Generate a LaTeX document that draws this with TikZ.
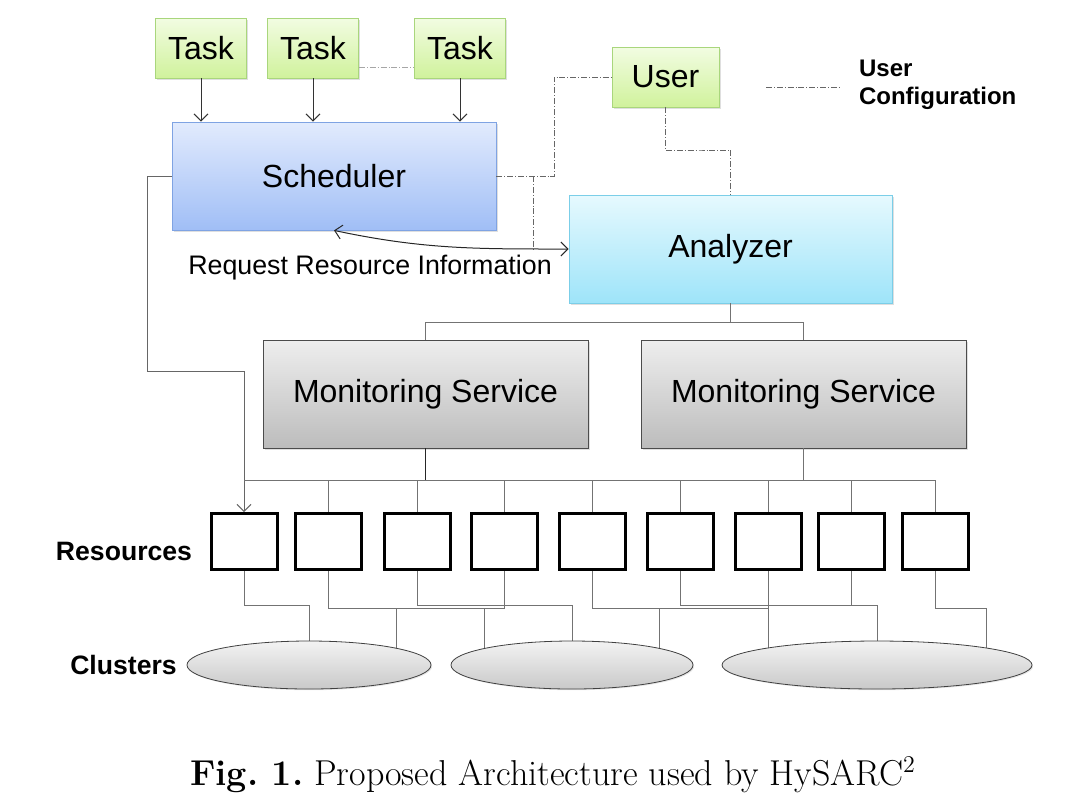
\documentclass[tikz,border=0pt]{standalone}
\usepackage{fontspec}
\newfontfamily\arialfont{Liberation Sans}
\usepackage{xcolor}
\usetikzlibrary{positioning, shapes, shadows, backgrounds, arrows.meta}

\definecolor{tasktop}{HTML}{F2FCE2}
\definecolor{taskbot}{HTML}{D0F29C}
\definecolor{taskline}{HTML}{A9D67C}
\definecolor{schedtop}{HTML}{E2EBFD}
\definecolor{schedbot}{HTML}{A0BEF6}
\definecolor{schedline}{HTML}{7FA3E3}
\definecolor{antop}{HTML}{E6F9FE}
\definecolor{anbot}{HTML}{9EE4F9}
\definecolor{anline}{HTML}{7BCEE8}
\definecolor{montop}{HTML}{EEEEEE}
\definecolor{monbot}{HTML}{BCBCBC}
\definecolor{clutop}{HTML}{F3F3F3}
\definecolor{clubot}{HTML}{C9C9C9}

\tikzset{
    box/.style={draw, inner sep=0pt, font=\arialfont\fontsize{16}{19}\selectfont,
        drop shadow={opacity=0.25, shadow xshift=0.8pt, shadow yshift=-0.8pt}},
    taskbox/.style={box, draw=taskline, top color=tasktop, bottom color=taskbot,
        minimum width=45.5pt, minimum height=30pt},
    schedbox/.style={box, draw=schedline, top color=schedtop, bottom color=schedbot,
        minimum width=162pt, minimum height=54pt},
    anbox/.style={box, draw=anline, top color=antop, bottom color=anbot,
        minimum width=161.5pt, minimum height=54pt},
    monbox/.style={box, draw=black!70, top color=montop, bottom color=monbot,
        minimum width=162.5pt, minimum height=54pt},
    resbox/.style={draw, line width=1.5pt, fill=white, inner sep=0pt,
        minimum width=33pt, minimum height=28pt},
    cluster/.style={ellipse, draw=black!75, top color=clutop, bottom color=clubot,
        inner sep=0pt, minimum height=24pt,
        drop shadow={opacity=0.2, shadow xshift=0.6pt, shadow yshift=-0.6pt}},
    wire/.style={draw=black!55, line width=0.5pt},
    cfg/.style={draw=black!60, densely dashdotted, line width=0.4pt},
    sidelabel/.style={font=\arialfont\bfseries\fontsize{13.3}{16}\selectfont},
}

\begin{document}
\begin{tikzpicture}[x=0.5pt, y=-0.5pt, >={Straight Barb[length=3.5pt,width=7pt]}]

    \useasboundingbox (0,0) rectangle (1079,804);

    % Tasks and user
    \node[taskbox] (t1) at (201,48) {Task};
    \node[taskbox] (t2) at (313,48) {Task};
    \node[taskbox] (t3) at (460,48) {Task};
    \node[taskbox, minimum width=53.5pt] (user) at (665.5,77) {User};

    % Main boxes
    \node[schedbox] (sched) at (334,176) {Scheduler};
    \node[anbox] (an) at (730.5,249) {Analyzer};
    \node[monbox] (ms1) at (425.5,394) {Monitoring Service};
    \node[monbox] (ms2) at (803.5,394) {Monitoring Service};

    % Resources
    \foreach \x [count=\i] in {244,328,417,504,592,680,768,851,935}
        \node[resbox] (r\i) at (\x,541.5) {};

    % Clusters
    \node[cluster, minimum width=122pt] (c1) at (309,665) {};
    \node[cluster, minimum width=121pt] (c2) at (572,665) {};
    \node[cluster, minimum width=155pt] (c3) at (877,665) {};

    % Side labels
    \node[sidelabel] (reslabel) at (124,551) {Resources};
    \node[sidelabel] (clulabel) at (123.5,665) {Clusters};

    % Helper points
    \coordinate (tdots) at (0,67);
    \coordinate (ujoin) at (554,77);
    \coordinate (ajoin) at (700,150);
    \coordinate (rjoin) at (533,176);
    \coordinate (sl) at (147,371);
    \coordinate (abus) at (0,322);
    \coordinate (rbus) at (0,480);
    \coordinate (lowA) at (0,605);
    \coordinate (lowB) at (0,608);

    % Tasks to scheduler
    \foreach \t in {t1,t2,t3}
        \draw[->, black!80, line width=0.5pt] (\t.south) -- (\t.south |- sched.north);
    \draw[cfg, black!35] (t2.east |- tdots) -- (t3.west |- tdots);

    % User configuration
    \draw[cfg] (sched.east) -| (ujoin) -- (user.west);
    \draw[cfg] (user.south) |- (ajoin) -| (an.north);
    \draw[cfg] (rjoin) -- (rjoin |- an.west);

    % Request resource information
    \draw[<->, black!85, line width=0.5pt] (sched.south) to[out=-12, in=180] (an.west);
    \node[font=\arialfont\fontsize{13.4}{16}\selectfont] (req) at (370,268) {Request Resource Information};

    % Scheduler to first resource
    \draw[wire, ->, black!60] (sched.west) -| (sl) -| (r1.north);

    % Analyzer to monitoring services
    \draw[wire] (an.south) -- (an.south |- abus);
    \draw[wire] (ms1.north) |- (ms2.north |- abus) -- (ms2.north);

    % Monitoring services to resources
    \draw[black!85, line width=0.7pt] (ms1.south) -- (ms1.south |- rbus);
    \draw[wire] (ms2.south) -- (ms2.south |- rbus);
    \draw[wire] (r1.north |- rbus) -- (r9.north |- rbus);
    \foreach \i in {2,...,9}
        \draw[wire] (r\i.north |- rbus) -- (r\i.north);

    % Resources to clusters
    \begin{pgfonlayer}{background}
        \draw[wire] (r1.south) |- (c1 |- lowA) -- (c1);
        \draw[wire] (r2.south) |- (r4.south |- lowB) -- (r4.south);
        \draw[wire] (c1.11 |- lowB) -- (c1.11 |- c1);
        \draw[wire] (c2.169 |- lowB) -- (c2.169 |- c2);
        \draw[wire] (r3.south) |- (c2 |- lowA) -- (c2);
        \draw[wire] (r5.south) |- (r7.south |- lowB);
        \draw[wire] (c2.11 |- lowB) -- (c2.11 |- c2);
        \draw[wire] (r7.south) -- (r7.south |- c3);
        \draw[wire] (r6.south) |- (c3 |- lowA) -- (c3);
        \draw[wire] (r8.south) -- (r8.south |- lowA);
        \draw[wire] (r9.south) |- (c3.9 |- lowB) -- (c3.9 |- c3);
    \end{pgfonlayer}

    % Legend
    \coordinate (lg) at (766,87);
    \draw[cfg] (lg) -- ++(75,0);
    \node[anchor=west, align=left, font=\arialfont\bfseries\fontsize{12}{14}\selectfont] (legend) at (852,85) {User\\Configuration};

    % Caption
    \node[font=\fontsize{18}{22}\selectfont] (caption) at (553,775) {\textbf{Fig.\ 1.}\ Proposed Architecture used by HySARC$^2$};

\end{tikzpicture}
\end{document}
